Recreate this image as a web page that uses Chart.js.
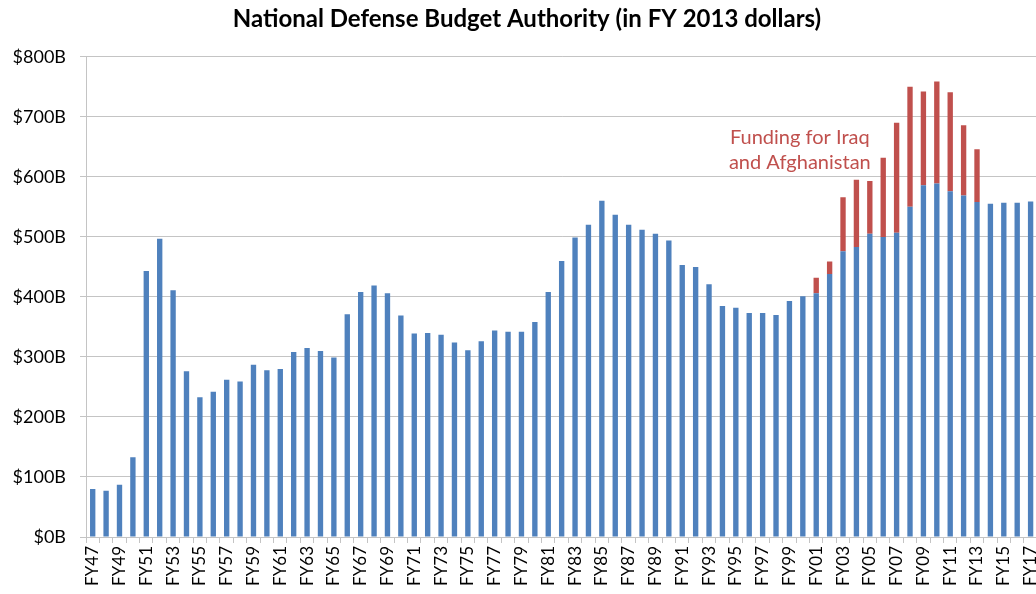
<!DOCTYPE html>
<html>
<head>
<meta charset="utf-8">
<script src="https://cdn.jsdelivr.net/npm/chart.js@4/dist/chart.umd.min.js"></script>
<style>
  html, body { margin: 0; padding: 0; background: #fff; }
  #wrap { width: 1036px; height: 594px; overflow: hidden; }
</style>
</head>
<body>
<div id="wrap"><canvas id="budgetChart" width="1054" height="594"></canvas></div>
<script>
// ── Data (billions, FY 2013 dollars) ──────────────────────
const fiscalYears = [
  "FY47","FY48","FY49","FY50","FY51","FY52","FY53","FY54","FY55","FY56",
  "FY57","FY58","FY59","FY60","FY61","FY62","FY63","FY64","FY65","FY66",
  "FY67","FY68","FY69","FY70","FY71","FY72","FY73","FY74","FY75","FY76",
  "FY77","FY78","FY79","FY80","FY81","FY82","FY83","FY84","FY85","FY86",
  "FY87","FY88","FY89","FY90","FY91","FY92","FY93","FY94","FY95","FY96",
  "FY97","FY98","FY99","FY00","FY01","FY02","FY03","FY04","FY05","FY06",
  "FY07","FY08","FY09","FY10","FY11","FY12","FY13","FY14","FY15","FY16",
  "FY17"
];

const baseBudget = [
   80,  77,  87, 133, 443, 497, 411, 276, 233, 242,
  262, 259, 287, 278, 280, 308, 315, 310, 299, 371,
  408, 419, 406, 369, 339, 340, 337, 324, 311, 326,
  344, 342, 342, 358, 408, 460, 499, 520, 560, 537,
  520, 512, 505, 494, 453, 450, 421, 385, 382, 373,
  373, 370, 393, 401, 406, 438, 476, 483, 505, 500,
  507, 550, 586, 589, 576, 569, 558, 555, 557, 557,
  559
];

const warFunding = [
  null, null, null, null, null, null, null, null, null, null,
  null, null, null, null, null, null, null, null, null, null,
  null, null, null, null, null, null, null, null, null, null,
  null, null, null, null, null, null, null, null, null, null,
  null, null, null, null, null, null, null, null, null, null,
  null, null, null, null,   26,   21,   90,  112,   88,  132,
   183,  200,  156,  170,  165,  117,   88, null, null, null,
  null
];

const yTicks = [0, 100, 200, 300, 400, 500, 600, 700, 800];

// ── Chart ─────────────────────────────────────────────────
const FONT = "Lato";
const gridGray = "#c4c4c4";

// red annotation next to the war bars
const warLabel = {
  id: "warLabel",
  afterDatasetsDraw(chart) {
    const { ctx, scales: { x, y } } = chart;
    const cx = x.getPixelForValue(53) - 3;
    ctx.save();
    ctx.font = "20px " + FONT;
    ctx.fillStyle = "#C0504D";
    ctx.textAlign = "center";
    ctx.textBaseline = "middle";
    ctx.fillText("Funding for Iraq", cx, y.getPixelForValue(665));
    ctx.fillText("and Afghanistan", cx, y.getPixelForValue(623));
    ctx.restore();
  }
};

new Chart(document.getElementById("budgetChart"), {
  type: "bar",
  data: {
    labels: fiscalYears,
    datasets: [
      {
        label: "Base budget",
        data: baseBudget,
        backgroundColor: "#4F81BD",
        barPercentage: 0.4,
        categoryPercentage: 1
      },
      {
        label: "Funding for Iraq and Afghanistan",
        data: warFunding,
        backgroundColor: "#C0504D",
        barPercentage: 0.4,
        categoryPercentage: 1
      }
    ]
  },
  options: {
    responsive: false,
    animation: false,
    layout: { padding: 0 },
    plugins: {
      legend: { display: false },
      tooltip: { enabled: false },
      title: {
        display: true,
        text: "National Defense Budget Authority (in FY 2013 dollars)",
        color: "#000",
        font: { family: FONT, size: 24, weight: "bold", lineHeight: 1.2 },
        padding: { top: 5, bottom: 23 }
      }
    },
    scales: {
      x: {
        stacked: true,
        offset: true,
        afterFit: (s) => { s.height = 57; },
        border: { color: gridGray },
        grid: {
          offset: true,
          drawOnChartArea: false,
          drawTicks: true,
          tickLength: 6,
          color: gridGray
        },
        ticks: {
          autoSkip: false,
          minRotation: 90,
          maxRotation: 90,
          padding: 3,
          color: "#000",
          font: { family: FONT, size: 17 },
          callback: (v, i) => (i % 2 === 0 ? fiscalYears[i] : "")
        }
      },
      y: {
        stacked: true,
        min: yTicks[0],
        max: yTicks[yTicks.length - 1],
        afterFit: (s) => { s.width = 86; },
        afterBuildTicks: (s) => { s.ticks = yTicks.map(v => ({ value: v })); },
        border: { color: gridGray },
        grid: { color: gridGray, tickLength: 6, drawTicks: true },
        ticks: {
          padding: 14,
          color: "#000",
          font: { family: FONT, size: 18 },
          callback: (v) => "$" + v + "B"
        }
      }
    }
  },
  plugins: [warLabel]
});
</script>
</body>
</html>
